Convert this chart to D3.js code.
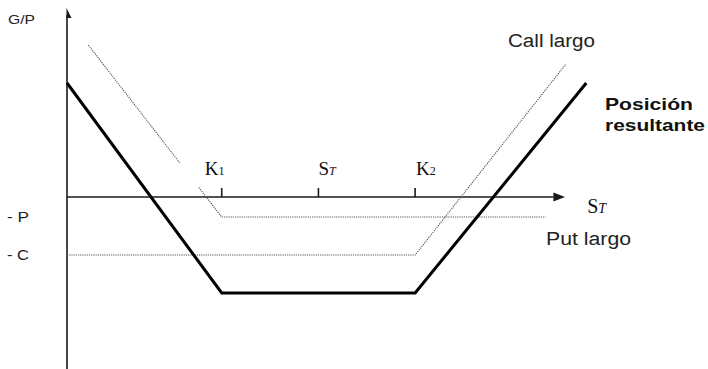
<!DOCTYPE html>
<html>
<head>
<meta charset="utf-8">
<script src="https://cdn.jsdelivr.net/npm/d3@7"></script>
<style>
  body { margin: 0; background: #fff; }
  svg { display: block; }
</style>
</head>
<body>
<div id="chart"></div>
<script>
// payoff diagram, schematic units
const putLargo = [[2.2, 15.2], [16, -2], [49.5, -2]];
const callLargo = [[0, -5.8], [36, -5.8], [51.6, 13.3]];
const resultante = [[0, 11.4], [16, -9.6], [36, -9.6], [53.7, 11.4]];

const xTicks = [
  { label: "K", sub: "1", v: 16, dx: -17, subItalic: false },
  { label: "S", sub: "T", v: 26, dx: 0, subItalic: true },
  { label: "K", sub: "2", v: 36, dx: 1, subItalic: false },
];
const yLabels = [
  { text: "- P", v: -2 },
  { text: "- C", v: -5.8 },
];

const width = 708;
const height = 369;

const svg = d3.select("#chart")
  .append("svg")
  .attr("width", width)
  .attr("height", height);

const x = d3.scaleLinear().domain([0, 50]).range([67, 550.5]);
const y = d3.scaleLinear().domain([0, 10]).range([197, 97]);

const line = d3.line().x((d) => x(d[0])).y((d) => y(d[1]));

// axes
const axisColor = "#1a1a1a";
svg.append("line")
  .attr("x1", x(0)).attr("x2", x(0))
  .attr("y1", y(18.2)).attr("y2", height)
  .attr("stroke", axisColor)
  .attr("stroke-width", 1.6);

svg.append("path")
  .attr("d", `M${x(0) - 0.5},${y(18.9)} L${x(0) + 4.5},${y(18.9) + 10} L${x(0) - 0.5},${y(18.9) + 10} Z`)
  .attr("fill", axisColor);

svg.append("line")
  .attr("x1", x(0)).attr("x2", x(50.3))
  .attr("y1", y(0)).attr("y2", y(0))
  .attr("stroke", axisColor)
  .attr("stroke-width", 1.6);

svg.append("path")
  .attr("d", `M${x(51.5)},${y(0)} L${x(50.3)},${y(0) - 4.5} L${x(50.3)},${y(0) + 4.5} Z`)
  .attr("fill", axisColor);

// ticks
svg.append("g")
  .selectAll("line")
  .data(xTicks)
  .join("line")
  .attr("x1", (d) => x(d.v)).attr("x2", (d) => x(d.v))
  .attr("y1", y(0)).attr("y2", y(0) - 9)
  .attr("stroke", axisColor)
  .attr("stroke-width", 1.6);

// long put and long call, dotted
svg.append("path")
  .datum(putLargo)
  .attr("d", line)
  .attr("fill", "none")
  .attr("stroke", "#555")
  .attr("stroke-width", 1.1)
  .attr("stroke-dasharray", "1.2,1");

svg.append("path")
  .datum(callLargo)
  .attr("d", line)
  .attr("fill", "none")
  .attr("stroke", "#555")
  .attr("stroke-width", 1.1)
  .attr("stroke-dasharray", "1.2,1");

// resulting position
svg.append("path")
  .datum(resultante)
  .attr("d", line)
  .attr("fill", "none")
  .attr("stroke", "#000")
  .attr("stroke-width", 3)
  .attr("stroke-linejoin", "miter");

// tick labels (white box behind, hides the dotted line under K1)
const tickLab = svg.append("g")
  .selectAll("g")
  .data(xTicks)
  .join("g")
  .attr("transform", (d) => `translate(${x(d.v) + d.dx}, ${y(0) - 22})`);

tickLab.filter((d, i) => i === 0)
  .append("rect")
  .attr("x", -25).attr("y", -12)
  .attr("width", 46).attr("height", 24)
  .attr("fill", "#fff");

const tickText = tickLab.append("text")
  .attr("font-family", "Liberation Serif, Times New Roman, serif")
  .attr("font-size", 19)
  .attr("fill", "#111");
tickText.append("tspan").text((d) => d.label);
tickText.append("tspan")
  .attr("font-size", 12)
  .attr("font-style", (d) => (d.subItalic ? "italic" : "normal"))
  .text((d) => d.sub);

// S_T at end of axis
const st = svg.append("text")
  .attr("x", x(53.8))
  .attr("y", y(0) + 16)
  .attr("font-family", "Liberation Serif, Times New Roman, serif")
  .attr("font-size", 20)
  .attr("fill", "#111");
st.append("tspan").text("S");
st.append("tspan").attr("font-size", 14).attr("font-style", "italic").text("T");

// y labels
const sans = "Liberation Sans, Arial, Helvetica, sans-serif";
svg.append("text")
  .attr("x", 8).attr("y", 24)
  .attr("font-family", sans)
  .attr("font-size", 13)
  .attr("textLength", 27)
  .attr("lengthAdjust", "spacingAndGlyphs")
  .attr("fill", "#222")
  .text("G/P");

svg.append("g")
  .selectAll("text")
  .data(yLabels)
  .join("text")
  .attr("x", 7)
  .attr("y", (d) => y(d.v) + 5)
  .attr("font-family", sans)
  .attr("font-size", 14)
  .attr("textLength", 22)
  .attr("lengthAdjust", "spacingAndGlyphs")
  .attr("fill", "#222")
  .text((d) => d.text);

// series labels
svg.append("text")
  .attr("x", 508).attr("y", 47)
  .attr("font-family", sans)
  .attr("font-size", 18)
  .attr("textLength", 87)
  .attr("lengthAdjust", "spacingAndGlyphs")
  .attr("fill", "#222")
  .text("Call largo");

svg.append("text")
  .attr("x", 546).attr("y", 245)
  .attr("font-family", sans)
  .attr("font-size", 18)
  .attr("textLength", 85)
  .attr("lengthAdjust", "spacingAndGlyphs")
  .attr("fill", "#222")
  .text("Put largo");

const pos = svg.append("g")
  .attr("font-family", sans)
  .attr("font-size", 17)
  .attr("font-weight", "bold")
  .attr("fill", "#111");
pos.append("text").attr("x", 605).attr("y", 110)
  .attr("textLength", 88).attr("lengthAdjust", "spacingAndGlyphs")
  .text("Posición");
pos.append("text").attr("x", 605).attr("y", 131)
  .attr("textLength", 100).attr("lengthAdjust", "spacingAndGlyphs")
  .text("resultante");
</script>
</body>
</html>
